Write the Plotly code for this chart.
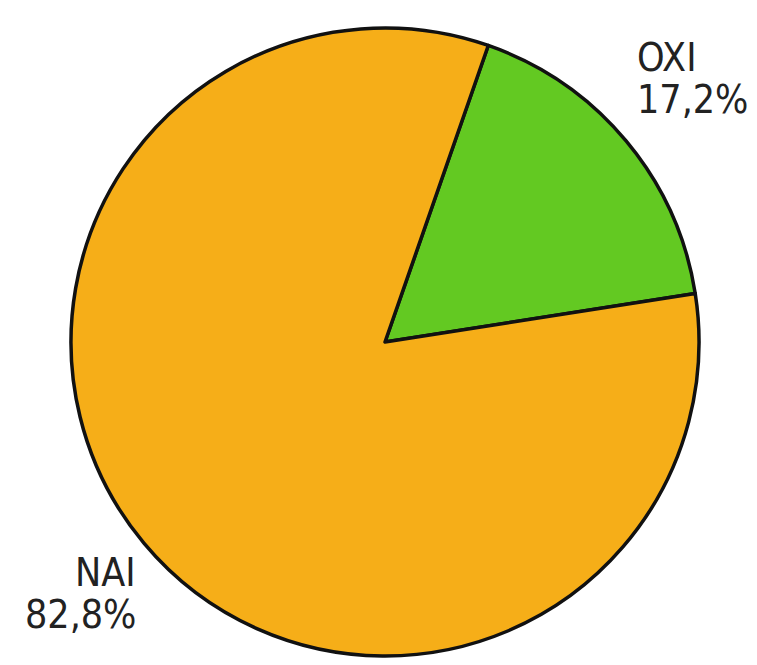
import plotly.graph_objects as go

# Share of each group
labels = ["OXI", "NAI"]
values = [17.2, 82.8]
colors = ["#63C922", "#F6AE18"]

W, H = 757, 665
cx, cy, r = 385, 342, 314  # pie centre (px from left/top) and radius

fig = go.Figure(
    go.Pie(
        labels=labels,
        values=values,
        sort=False,
        direction="clockwise",
        rotation=19.2,
        marker=dict(colors=colors, line=dict(color="#111111", width=3.5)),
        textinfo="none",
        hoverinfo="label+percent",
        showlegend=False,
        domain=dict(
            x=[(cx - r) / W, (cx + r) / W],
            y=[(H - cy - r) / H, (H - cy + r) / H],
        ),
    )
)


def pct(v):
    return f"{v:.1f}".replace(".", ",") + "%"


font = dict(family="DejaVu Sans Condensed, DejaVu Sans", size=39, color="#222222")

# label blocks: (name, value, x px, y px of first line top, anchor)
placements = [
    (labels[0], values[0], 635, 33, "left"),
    (labels[1], values[1], 138, 548, "right"),
]
for name, v, x, y, anchor in placements:
    for i, txt in enumerate([name, pct(v)]):
        fig.add_annotation(
            x=x / W,
            y=1 - (y + i * 42) / H,
            xref="paper",
            yref="paper",
            text=txt,
            showarrow=False,
            xanchor=anchor,
            yanchor="top",
            align=anchor,
            font=font,
        )

fig.update_layout(
    width=W,
    height=H,
    margin=dict(l=0, r=0, t=0, b=0),
    paper_bgcolor="white",
    plot_bgcolor="white",
)

fig.write_html("out.html")
